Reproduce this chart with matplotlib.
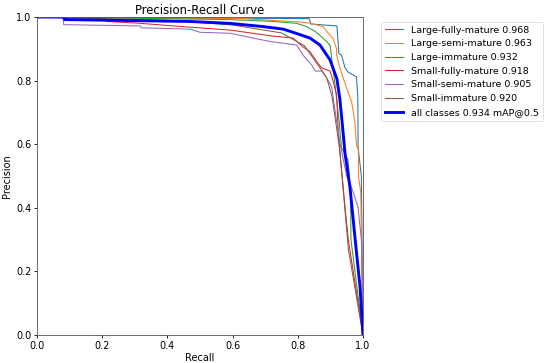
import matplotlib
matplotlib.use('Agg')
import matplotlib.pyplot as plt

class_names = ['Large-fully-mature', 'Large-semi-mature', 'Large-immature',
               'Small-fully-mature', 'Small-semi-mature', 'Small-immature']
class_ap = [0.968, 0.963, 0.932, 0.918, 0.905, 0.920]
map50 = 0.934

# recall / precision vertices
recall_lfm = [0, 0.835, 0.84, 0.92, 0.926, 0.934, 0.945, 0.954, 0.98, 0.984, 0.985, 0.995, 0.997, 1.0]
prec_lfm = [1.0, 0.995, 0.978, 0.972, 0.885, 0.88, 0.84, 0.827, 0.812, 0.75, 0.59, 0.5, 0.3, 0.0]

recall_lsm = [0, 0.63, 0.80, 0.837, 0.877, 0.893, 0.908, 0.919, 0.919, 0.929, 0.95, 0.965, 0.975, 0.98, 0.986, 0.986, 0.993, 1.0]
prec_lsm = [1.0, 0.995, 0.985, 0.981, 0.97, 0.95, 0.932, 0.9, 0.88, 0.84, 0.776, 0.734, 0.671, 0.597, 0.58, 0.5, 0.45, 0.0]

recall_li = [0, 0.59, 0.724, 0.797, 0.827, 0.853, 0.877, 0.899, 0.905, 0.915, 0.927, 0.934, 0.954, 0.962, 0.963, 1.0]
prec_li = [1.0, 0.992, 0.986, 0.98, 0.97, 0.955, 0.934, 0.912, 0.86, 0.78, 0.67, 0.59, 0.55, 0.45, 0.3, 0.0]

recall_sfm = [0, 0.21, 0.214, 0.306, 0.47, 0.592, 0.724, 0.785, 0.816, 0.837, 0.858, 0.873, 0.899, 0.908, 0.919, 0.925, 0.945, 0.955, 1.0]
prec_sfm = [1.0, 0.995, 0.986, 0.981, 0.968, 0.959, 0.94, 0.934, 0.906, 0.891, 0.86, 0.84, 0.83, 0.8, 0.755, 0.62, 0.4, 0.3, 0.0]

recall_ssm = [0, 0.08, 0.082, 0.316, 0.32, 0.47, 0.5, 0.592, 0.715, 0.797, 0.816, 0.843, 0.853, 0.875, 0.893, 0.904, 0.915, 0.93, 0.95, 0.97, 0.985, 0.995, 1.0]
prec_ssm = [1.0, 1.0, 0.976, 0.972, 0.966, 0.962, 0.952, 0.949, 0.923, 0.912, 0.88, 0.849, 0.83, 0.83, 0.8, 0.78, 0.7, 0.6, 0.5, 0.45, 0.4, 0.3, 0.0]

recall_si = [0, 0.4, 0.6, 0.75, 0.82, 0.847, 0.868, 0.889, 0.905, 0.915, 0.929, 0.955, 1.0]
prec_si = [1.0, 0.99, 0.975, 0.95, 0.91, 0.871, 0.84, 0.808, 0.75, 0.68, 0.58, 0.27, 0.0]

recall_all = [0, 0.08, 0.085, 0.214, 0.47, 0.592, 0.693, 0.755, 0.797, 0.837, 0.868, 0.899, 0.92, 0.929, 0.935, 0.945, 0.96, 0.975, 0.991, 1.0]
prec_all = [1.0, 1.0, 0.992, 0.99, 0.986, 0.98, 0.97, 0.962, 0.948, 0.934, 0.912, 0.865, 0.805, 0.742, 0.68, 0.57, 0.465, 0.31, 0.15, 0.0]

curves = [(recall_lfm, prec_lfm), (recall_lsm, prec_lsm), (recall_li, prec_li),
          (recall_sfm, prec_sfm), (recall_ssm, prec_ssm), (recall_si, prec_si)]

fs = 7
fig = plt.figure(figsize=(5.5, 3.63), dpi=100)
ax = fig.add_axes([0.0673, 0.0771, 0.5927, 0.876])

for i, (r, p) in enumerate(curves):
    ax.plot(r, p, linewidth=0.75, color='C%d' % i,
            label='%s %.3f' % (class_names[i], class_ap[i]))
ax.plot(recall_all, prec_all, linewidth=2.1, color='blue',
        label='all classes %.3f mAP@0.5' % map50)

ax.set_xlim(0, 1)
ax.set_ylim(0, 1)
ax.set_xlabel('Recall', fontsize=fs, labelpad=2)
ax.set_ylabel('Precision', fontsize=fs, labelpad=3)
ax.set_title('Precision-Recall Curve', fontsize=8.4, pad=2)
ax.tick_params(labelsize=fs, length=2.5, width=0.6, pad=1.5)
for s in ax.spines.values():
    s.set_linewidth(0.6)
    s.set_color('#555555')
leg = ax.legend(bbox_to_anchor=(1.04, 1), loc='upper left', fontsize=6.8)
leg.get_frame().set_linewidth(0.5)

fig.savefig('out.png', dpi=100)
